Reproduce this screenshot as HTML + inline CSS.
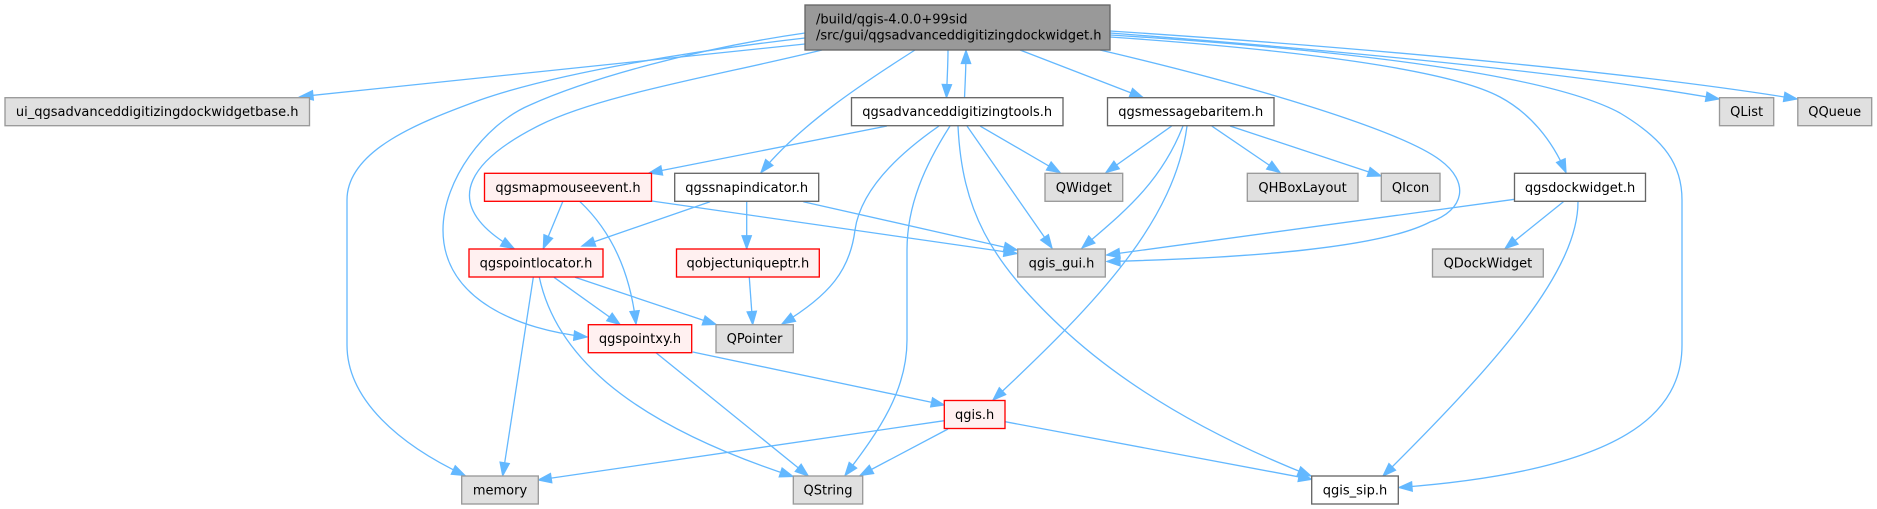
<!DOCTYPE html>
<html>
<head>
<meta charset="utf-8">
<style>
html,body{margin:0;padding:0;background:#fff;}
svg{display:block;}
text{font-family:"DejaVu Sans","Liberation Sans",sans-serif;font-size:13px;fill:#000;}
.e{fill:none;stroke:#63b8ff;stroke-width:1.3;marker-end:url(#ah);}
.g{fill:#e0e0e0;stroke:#999999;stroke-width:1.33;}
.w{fill:#ffffff;stroke:#666666;stroke-width:1.33;}
.r{fill:#fff0f0;stroke:#ff0000;stroke-width:1.33;}
.root{fill:#999999;stroke:#666666;stroke-width:1.33;}
</style>
</head>
<body>
<svg width="1877" height="509" viewBox="0 0 1877 509" xmlns="http://www.w3.org/2000/svg">
<defs>
<marker id="ah" markerUnits="userSpaceOnUse" markerWidth="16" markerHeight="12" refX="13" refY="4.7" orient="auto" overflow="visible">
<path d="M0,0 L13,4.7 L0,9.4 z" fill="#63b8ff" stroke="#63b8ff" stroke-width="1.2"/>
</marker>
</defs>

<!-- edges from root -->
<path class="e" d="M805,44 L300,96.7"/>
<path class="e" d="M805,38 C700,50 560,72 480,100 C420,122 347,150 347,200 L347,345 C347,400 400,445 465,475.5"/>
<path class="e" d="M805,33 C700,48 590,78 530,105 C485,124 443,180 443,230 C443,300 520,330 587,337"/>
<path class="e" d="M822,50 C720,75 600,95 540,125 C480,155 430,200 514,248.5"/>
<path class="e" d="M948,50 C948,65 947,80 946.5,97.5"/>
<path class="e" d="M964.5,98 C965,85 966,70 966,50.5"/>
<path class="e" d="M915,50 C860,85 800,125 761,172.5"/>
<path class="e" d="M1020,50 L1143,97.5"/>
<path class="e" d="M1100,50 C1250,85 1400,130 1440,160 C1470,182 1465,210 1430,222 C1380,248 1250,258 1107,261.5"/>
<path class="e" d="M1110,37 C1300,50 1450,70 1500,97 C1530,113 1552,140 1566,172.5"/>
<path class="e" d="M1110,35 C1350,50 1550,75 1620,113 C1665,140 1682,165 1682,200 L1682,345 C1682,410 1630,470 1399,487.5"/>
<path class="e" d="M1110,33 C1400,55 1600,78 1719,99"/>
<path class="e" d="M1110,31 C1400,50 1650,75 1797,99"/>

<!-- edges from qgsadvanceddigitizingtools.h -->
<path class="e" d="M887,126 L649,173"/>
<path class="e" d="M980,126 L1060,172.5"/>
<path class="e" d="M967,126 L1052,248"/>
<path class="e" d="M939,126 C890,160 860,195 855,230 C850,270 830,295 782,324"/>
<path class="e" d="M950,126 C925,165 907,205 907,250 L907,340 C907,390 880,430 845,475.5"/>
<path class="e" d="M958,126 C962,210 990,260 1060,326 C1130,392 1220,440 1311,476"/>

<!-- edges from qgsmessagebaritem.h -->
<path class="e" d="M1171.7,126 L1106,172.5"/>
<path class="e" d="M1183,126 C1160,185 1120,215 1082,248"/>
<path class="e" d="M1187,126 C1175,220 1100,300 993,400"/>
<path class="e" d="M1211.7,126 L1280,172.5"/>
<path class="e" d="M1230,126 L1381,176"/>

<!-- qgsmapmouseevent.h -->
<path class="e" d="M562.7,201.7 L543.3,248.5"/>
<path class="e" d="M580,201.7 C610,230 630,270 636,324"/>
<path class="e" d="M651.7,201 L1017,253.5"/>

<!-- qgssnapindicator.h -->
<path class="e" d="M710,201.7 L582,246"/>
<path class="e" d="M746.7,201.7 L746.7,248.7"/>
<path class="e" d="M803.3,201.7 L1017,250"/>

<!-- qobjectuniqueptr.h -->
<path class="e" d="M749.3,277.5 L752.7,324.5"/>

<!-- qgspointlocator.h -->
<path class="e" d="M533.3,277.3 L502.7,475.7"/>
<path class="e" d="M539.3,277.3 C555,350 620,420 793,476.5"/>
<path class="e" d="M554,277.3 L620,324.5"/>
<path class="e" d="M575,277.3 L716,324.5"/>

<!-- qgspointxy.h -->
<path class="e" d="M692.7,352 L944.3,405"/>
<path class="e" d="M656,352.7 L808.3,476"/>

<!-- qgis.h -->
<path class="e" d="M944.3,420.7 L538.3,480"/>
<path class="e" d="M948,429 L860,475.5"/>
<path class="e" d="M1005,421.7 L1311.7,479.3"/>

<!-- qgsdockwidget.h -->
<path class="e" d="M1514.5,199.3 L1106.7,255"/>
<path class="e" d="M1563.4,201.7 L1505,248.7"/>
<path class="e" d="M1578,201.7 C1578,270 1500,360 1383,476"/>

<!-- nodes -->
<rect class="root" x="805" y="5" width="305" height="45"/>
<text x="816" y="23.5">/build/qgis-4.0.0+99sid</text>
<text x="816" y="39.5">/src/gui/qgsadvanceddigitizingdockwidget.h</text>

<rect class="g" x="5" y="97.7" width="304.5" height="28"/>
<text x="157.2" y="116.2" text-anchor="middle">ui_qgsadvanceddigitizingdockwidgetbase.h</text>

<rect class="w" x="851.5" y="97.7" width="211.5" height="28"/>
<text x="957.2" y="116.2" text-anchor="middle">qgsadvanceddigitizingtools.h</text>

<rect class="w" x="1107.5" y="97.7" width="166.5" height="28"/>
<text x="1190.7" y="116.2" text-anchor="middle">qgsmessagebaritem.h</text>

<rect class="g" x="1719.5" y="97.7" width="54.2" height="28"/>
<text x="1746.6" y="116.2" text-anchor="middle">QList</text>

<rect class="g" x="1797.8" y="97.7" width="73.9" height="28"/>
<text x="1834.7" y="116.2" text-anchor="middle">QQueue</text>

<rect class="r" x="484.5" y="173.3" width="167" height="28"/>
<text x="568" y="191.8" text-anchor="middle">qgsmapmouseevent.h</text>

<rect class="w" x="674.7" y="173.3" width="144" height="28"/>
<text x="746.7" y="191.8" text-anchor="middle">qgssnapindicator.h</text>

<rect class="g" x="1045" y="173.3" width="77.7" height="28"/>
<text x="1083.8" y="191.8" text-anchor="middle">QWidget</text>

<rect class="g" x="1247.3" y="173.3" width="110.7" height="28"/>
<text x="1302.6" y="191.8" text-anchor="middle">QHBoxLayout</text>

<rect class="g" x="1381.3" y="173.3" width="58.7" height="28"/>
<text x="1410.6" y="191.8" text-anchor="middle">QIcon</text>

<rect class="w" x="1514.5" y="173.3" width="131" height="28"/>
<text x="1580" y="191.8" text-anchor="middle">qgsdockwidget.h</text>

<rect class="r" x="469" y="249" width="134" height="28"/>
<text x="536" y="267.5" text-anchor="middle">qgspointlocator.h</text>

<rect class="r" x="676.5" y="249" width="142.8" height="28"/>
<text x="747.9" y="267.5" text-anchor="middle">qobjectuniqueptr.h</text>

<rect class="g" x="1017.7" y="249" width="87.6" height="28"/>
<text x="1061.5" y="267.5" text-anchor="middle">qgis_gui.h</text>

<rect class="g" x="1432.5" y="249" width="110.8" height="28"/>
<text x="1487.9" y="267.5" text-anchor="middle">QDockWidget</text>

<rect class="r" x="588.3" y="324.7" width="103.4" height="28"/>
<text x="640" y="343.2" text-anchor="middle">qgspointxy.h</text>

<rect class="g" x="716" y="324.7" width="77.3" height="28"/>
<text x="754.6" y="343.2" text-anchor="middle">QPointer</text>

<rect class="r" x="944.3" y="400.5" width="60.7" height="28"/>
<text x="974.6" y="419" text-anchor="middle">qgis.h</text>

<rect class="g" x="461.7" y="476" width="76.6" height="28"/>
<text x="500" y="494.5" text-anchor="middle">memory</text>

<rect class="g" x="793.3" y="476" width="69.4" height="28"/>
<text x="828" y="494.5" text-anchor="middle">QString</text>

<rect class="w" x="1311.7" y="476" width="86.6" height="28"/>
<text x="1355" y="494.5" text-anchor="middle">qgis_sip.h</text>
</svg>
</body>
</html>
